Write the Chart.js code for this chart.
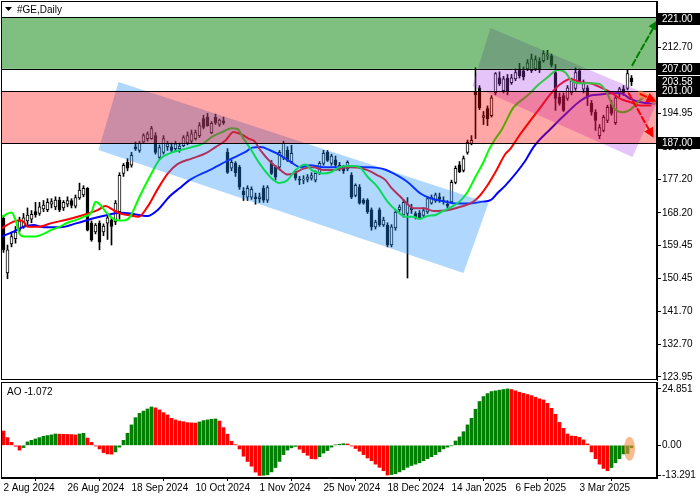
<!DOCTYPE html>
<html>
<head>
<meta charset="utf-8">
<script src="https://cdn.jsdelivr.net/npm/chart.js@4.4.1/dist/chart.umd.min.js"></script>
<style>
html, body { margin: 0; padding: 0; background: #fff; }
#wrap { position: relative; width: 700px; height: 500px; overflow: hidden; background: #fff; }
canvas { position: absolute; left: 0; }
#main { top: 0; }
#ao { top: 381px; }
</style>
</head>
<body>
<div id="wrap">
  <canvas id="main" width="700" height="381"></canvas>
  <canvas id="ao" width="700" height="119"></canvas>
</div>
<script>
// ---- data ----
const symbolTitle = '#GE,Daily';
const dateLabels = ['2 Aug 2024', '26 Aug 2024', '18 Sep 2024', '10 Oct 2024', '1 Nov 2024',
  '25 Nov 2024', '18 Dec 2024', '14 Jan 2025', '6 Feb 2025', '3 Mar 2025'];
const dateTickIdx = [0, 16, 32, 48, 64, 80, 96, 112, 128, 144];

const priceTicks = [123.95, 132.70, 141.70, 150.45, 159.45, 168.20, 177.20, 185.95, 194.95, 203.70, 212.70];
const levelPrices = [221, 207, 203.58, 201, 187];
const hLines = [221, 207, 201, 187];
const greenZone = [207, 221];
const redZone = [187, 201];

const opens = [166.7,152.0,159.8,161.2,163.5,164.5,166.0,166.5,168.5,168.0,
  169.2,169.0,170.5,169.8,171.6,169.5,170.5,171.5,170.0,172.2,
  173.0,174.8,165.4,163.0,165.4,163.0,165.4,166.2,165.7,168.5,
  178.8,181.8,181.0,186.0,185.0,187.3,188.2,188.2,189.0,183.1,
  184.5,186.0,186.0,185.5,185.5,186.3,187.0,187.5,188.2,189.0,
  193.6,194.0,189.8,193.9,192.0,193.0,184.5,180.2,181.5,180.5,
  174.0,172.4,172.4,172.5,172.0,174.8,171.6,181.5,180.5,180.5,
  183.0,185.0,182.0,178.8,177.2,177.0,177.2,177.5,177.0,179.0,
  181.5,184.5,181.5,182.5,181.0,180.5,180.0,178.3,172.9,175.1,
  171.6,171.6,169.0,164.4,169.0,164.9,164.9,159.5,164.1,169.0,
  167.6,168.0,169.5,168.0,168.1,167.5,168.4,170.8,171.5,172.5,
  171.5,170.5,171.1,176.4,181.1,179.6,184.5,186.9,200.8,201.9,
  193.9,196.3,194.4,200.6,204.6,201.1,204.5,203.3,204.3,207.0,
  206.5,207.0,206.5,207.0,209.0,209.2,210.5,210.5,206.0,199.3,
  199.8,199.0,200.5,201.7,206.5,201.5,201.9,197.7,195.3,189.0,
  190.4,193.1,197.5,192.5,200.3,201.6,201.7,204.5];
const highs = [167.5,159.5,163.0,164.5,167.0,168.0,169.5,168.8,171.0,171.0,
  171.5,172.0,172.0,172.5,172.4,171.5,172.5,172.0,173.0,176.2,
  175.5,175.0,166.0,165.3,166.0,165.2,168.0,167.0,171.5,179.0,
  181.5,182.8,184.5,187.3,187.5,189.5,190.0,191.5,189.8,186.5,
  189.0,187.5,187.0,187.5,187.0,189.0,190.0,190.5,190.5,192.5,
  194.5,195.0,192.8,194.8,193.5,194.0,185.5,182.5,182.0,181.0,
  175.0,175.5,175.2,173.5,173.5,175.5,175.5,182.3,181.0,185.0,
  187.5,186.0,186.4,179.5,178.0,178.2,178.5,179.0,179.5,182.0,
  185.0,185.0,184.0,183.5,181.8,181.0,182.2,179.0,176.0,175.8,
  172.0,172.0,169.5,166.2,169.5,167.0,165.5,165.0,169.0,170.3,
  171.8,172.3,170.5,168.5,168.8,169.5,172.5,173.0,173.5,173.5,
  172.5,171.5,177.0,180.8,182.0,183.5,187.8,189.0,207.3,202.5,
  195.5,197.0,199.8,206.0,206.2,205.0,205.5,205.5,207.0,208.5,
  207.5,209.5,211.0,210.5,210.0,211.9,212.0,211.0,208.2,200.5,
  200.5,202.5,204.5,207.3,207.0,204.0,202.5,198.5,196.0,192.0,
  194.5,197.2,198.5,199.8,202.0,202.5,206.7,205.2];
const lows = [157.5,150.4,159.0,160.0,163.0,164.0,165.0,165.5,167.0,167.5,
  168.5,168.5,169.5,169.0,168.5,168.8,169.8,169.5,169.5,171.8,
  172.5,163.3,160.5,162.5,158.2,162.0,161.0,159.5,165.0,166.5,
  178.0,179.5,180.5,185.0,184.5,187.0,187.5,188.0,184.0,182.5,
  184.0,185.0,184.5,184.8,184.5,186.0,186.5,187.0,187.8,188.5,
  190.8,191.5,189.5,192.0,191.5,192.0,178.8,179.5,178.0,174.5,
  171.5,171.5,171.8,170.5,171.0,171.0,171.0,178.5,177.0,180.0,
  182.5,182.0,181.5,177.0,175.8,176.0,176.5,177.0,176.5,178.5,
  181.0,182.0,181.0,180.5,179.5,178.8,179.5,172.0,172.5,170.5,
  170.5,168.0,163.5,163.8,164.5,164.5,159.0,159.0,163.5,168.5,
  167.0,150.6,168.0,166.5,166.5,167.0,168.0,170.5,171.0,171.0,
  170.5,169.5,170.8,176.0,179.0,179.2,184.0,186.5,188.2,196.0,
  192.0,191.7,194.0,200.0,202.5,200.5,200.0,202.8,203.8,204.5,
  204.0,206.5,206.0,206.5,206.0,208.8,209.5,207.5,195.8,197.2,
  195.5,198.5,200.0,201.2,203.5,200.5,197.1,194.5,190.4,188.2,
  190.0,192.5,194.5,192.0,199.5,199.8,201.3,202.5];
const closes = [158.2,158.2,161.8,163.0,166.0,166.8,167.6,167.8,167.6,169.8,
  170.3,171.0,171.2,171.6,169.0,171.0,171.5,170.2,172.3,174.3,
  174.8,163.5,160.9,164.9,160.3,164.6,166.8,164.5,170.8,178.3,
  181.0,180.2,183.7,185.5,186.9,189.0,189.5,190.9,184.5,185.8,
  188.2,186.8,185.0,186.8,186.2,188.5,189.0,189.5,189.8,191.7,
  191.2,191.7,192.3,192.5,193.2,192.5,179.1,181.8,179.0,175.1,
  173.0,174.8,174.5,172.0,172.5,171.6,175.0,178.8,177.8,184.5,
  187.0,182.3,184.2,177.5,177.0,177.3,177.8,178.2,178.8,181.5,
  184.2,182.3,183.5,181.0,180.5,179.5,181.8,172.4,175.6,170.8,
  170.8,168.4,164.4,165.7,165.0,166.2,159.5,164.4,168.4,169.7,
  171.0,170.5,169.0,167.0,166.8,168.8,172.0,172.4,173.0,171.8,
  171.2,170.0,176.4,180.2,179.3,182.8,187.2,187.7,200.0,196.5,
  194.4,193.6,199.2,205.7,203.0,204.3,200.8,204.6,206.0,205.1,
  204.8,208.6,209.7,209.5,206.8,211.1,210.8,208.0,199.0,197.7,
  195.8,201.9,203.8,206.0,203.8,203.0,199.8,195.3,193.1,191.2,
  193.9,196.6,195.0,199.2,201.6,200.5,205.7,203.58];

// Alligator lines, sampled along the drawn curves (bar index, price)
const jawX = [-0.5,2.5,5,7.5,10,14.25,18.4,22.5,26,29.25,31.75,36,38.5,41.5,44,46.5,51.5,57,60.5,62,
  64.25,66.75,69.25,71.75,74.25,76.75,80,83.5,86.75,90,93.5,95.5,97.5,101,104.25,106.75,110,113.5,116.75,119.75,
  121.75,123.75,125.5,130.5,132.5,136.75,141,144.25,146.75,149.25,151.75,154.25,156.75,159.25,163.5,165];
const jawY = [161.8,163.1,164.4,164.9,164.3,164.3,165.4,166.7,167.6,168.2,168.0,167.3,168.9,172.6,174.8,177.0,179.7,182.8,184.6,185.7,
  185.9,185.0,183.7,181.9,180.5,181.0,180.5,180.5,180.7,180.5,180.3,179.8,178.8,176.5,173.4,172.1,171.3,170.7,170.7,171.2,
  171.6,173.8,175.6,182.3,185.9,190.8,195.3,198.4,199.8,200.1,200.4,200.4,198.9,198.0,197.6,197.4];
const teethX = [-0.5,2.5,4,5,6,8.5,12,16,20,23.5,25.5,27.5,29.5,31.25,33.75,36,38.5,41,43.5,47,
  50.5,53,55.5,57.5,59.75,61.25,62.75,64.25,66.75,69.25,71,72.5,75,77.5,80,82.5,86,88.5,91,93.5,
  95.5,96.75,99.25,101.25,102.5,105,107.5,111,114.25,117.5,119.25,121,123,125.5,126.75,129.25,131.75,134.25,136.75,139.25,
  141.75,144.25,146.75,149.25,151.75,154.25,156.75,159.25,162];
const teethY = [164.0,165.8,166.2,165.8,164.4,164.4,165.4,166.4,167.6,168.9,170.0,168.9,167.9,167.6,167.1,169.8,174.5,178.7,181.3,182.8,
  184.2,185.9,187.7,190.0,189.2,188.2,187.5,185.0,181.9,179.7,178.5,178.8,180.1,180.5,179.7,179.7,180.5,180.4,179.7,178.3,
  177.0,175.2,172.5,170.3,169.4,169.4,168.7,168.9,169.8,171.2,173.0,175.6,179.2,184.1,185.5,189.5,193.1,196.6,200.2,202.9,
  204.3,203.4,203.1,202.0,200.7,198.9,198.0,197.1,197.1];
const lipsX = [-0.5,2,3,4,5,8,10,12,14,16,18,20,22,23,24.25,25.5,27.5,29,30.5,31.75,
  34,36.75,39,42,45,47,50,52,55,57,58.5,60,62,64,67,69,71,73,75.5,77,
  80,82,84,87,89,91,93.5,96,98.5,100.5,102.5,104,106,108,110,112,114,116,118,120,
  121.5,123,124.5,127.5,131,133.5,136,138.5,140.5,142,144,146.75,149,151,152.5,154.75,156.75,158.5,160];
const lipsY = [167.1,168.3,166.3,162.5,161.8,161.8,162.5,163.6,164.4,165.5,166.2,167.1,168.3,171.2,170.3,168.5,166.5,166.1,166.2,167.3,
  172.5,178.3,182.5,184.4,185.3,185.9,186.9,188.6,190.1,191.0,190.8,188.2,185.0,181.5,177.5,176.2,177.0,179.7,181.2,179.7,
  178.8,179.2,180.5,180.8,180.5,177.9,175.2,171.2,168.5,167.1,167.1,166.5,167.3,167.6,168.7,169.8,171.2,173.8,177.9,181.9,
  185.5,188.2,190.5,196.6,199.8,202.5,204.7,206.7,206.0,203.8,203.1,203.1,202.9,200.2,196.6,195.3,196.0,198.0,199.3];

// Awesome Oscillator, one value per bar
const aoValues = [6.3,3.4,1.3,-0.4,-2.1,-1.0,1.5,2.2,2.8,3.4,
  4.0,4.3,4.6,5.0,4.9,4.85,4.8,4.75,4.6,5.0,
  5.3,3.2,1.3,-0.3,-1.6,-3.2,-3.8,-3.9,-2.9,-0.8,
  2.2,5.3,9.0,12.2,14.1,15.1,16.0,16.9,16.5,15.6,
  14.4,13.4,11.9,11.2,10.7,10.4,10.0,9.9,9.8,10.3,
  10.9,11.2,11.5,11.6,10.7,7.8,4.9,1.8,0.3,-1.6,
  -4.8,-7.1,-9.2,-11.8,-13.291,-13.2,-13.0,-11.7,-9.8,-7.1,
  -4.1,-2.1,-1.1,-0.5,-1.7,-3.2,-4.4,-5.9,-6.0,-5.0,
  -3.4,-2.3,-0.8,0.2,0.5,0.7,0.6,-0.3,-1.4,-2.6,
  -4.1,-5.6,-6.8,-8.3,-9.7,-11.2,-13.1,-12.9,-12.5,-11.7,
  -10.8,-9.7,-8.9,-8.3,-7.7,-6.8,-5.9,-5.0,-4.1,-2.9,
  -1.6,-0.8,-0.2,1.9,3.7,6.0,9.0,11.9,15.9,19.3,
  21.5,22.8,23.7,24.0,24.3,24.6,24.851,24.6,24.0,23.4,
  22.9,22.4,21.9,21.2,20.5,20.0,18.5,16.3,13.7,10.1,
  7.5,5.0,4.1,4.0,3.5,2.4,0.6,-2.9,-5.9,-8.3,
  -10.2,-11.2,-9.8,-7.7,-5.9,-3.8,-3.6,-1.072];
const aoTickValues = [-13.291, 0, 24.851];
const aoTickLabels = ['-13.291', '0.00', '24.851'];
const aoLabel = 'AO -1.072';

// drawn objects in chart units (bar index, price)
const blueChannel = [[28.75, 203.45], [121.25, 170.84], [115, 151.97], [23.75, 185.13]];
const purpleChannel = [[121.75, 218.01], [163.75, 198.87], [157.25, 183.24], [117.25, 202.38]];
const upArrow = [[157.2, 208.0], [163.6, 220.2]];
const downArrow = [[156.3, 200.4], [162.5, 188.4]];
const sideArrow = [[159.25, 200.2], [163.25, 198.1]];
const aoMark = [156.5, -1.5];

// ---- setup ----
Chart.defaults.font.family = "'Liberation Sans', Arial, sans-serif";
Chart.defaults.font.size = 10;
Chart.defaults.color = '#000';

const X_MIN = -0.625, X_MAX = 163.375;
const BAR_GREEN = '#008000', BAR_RED = '#ff0000';

const wickData = lows.map((l, i) => ({ x: i, y: [l, highs[i]] }));
const bodyData = opens.map((o, i) => ({ x: i, y: [o, closes[i]] }));
const bodyFill = opens.map((o, i) => closes[i] >= o ? '#ffffff' : '#000000');
const toXY = (xs, ys) => xs.map((x, k) => ({ x: x, y: ys[k] }));
const aoData = aoValues.map((v, i) => ({ x: i, y: v }));
const aoColors = aoValues.map((v, i) => (i > 0 && v > aoValues[i - 1]) ? BAR_GREEN : BAR_RED);

function polyPath(ctx, xs, ys, pts) {
  ctx.beginPath();
  pts.forEach(([i, p], k) => {
    const X = xs.getPixelForValue(i), Y = ys.getPixelForValue(p);
    if (k) ctx.lineTo(X, Y); else ctx.moveTo(X, Y);
  });
  ctx.closePath();
}

function dashedArrow(ctx, xs, ys, seg, color) {
  const x1 = xs.getPixelForValue(seg[0][0]), y1 = ys.getPixelForValue(seg[0][1]);
  const x2 = xs.getPixelForValue(seg[1][0]), y2 = ys.getPixelForValue(seg[1][1]);
  const a = Math.atan2(y2 - y1, x2 - x1);
  ctx.save();
  ctx.strokeStyle = color;
  ctx.lineWidth = 2;
  ctx.setLineDash([6, 3]);
  ctx.beginPath();
  ctx.moveTo(x1, y1);
  ctx.lineTo(x2 - 6 * Math.cos(a), y2 - 6 * Math.sin(a));
  ctx.stroke();
  ctx.setLineDash([]);
  ctx.fillStyle = color;
  ctx.beginPath();
  ctx.moveTo(x2, y2);
  ctx.lineTo(x2 - 10 * Math.cos(a) + 5 * Math.sin(a), y2 - 10 * Math.sin(a) - 5 * Math.cos(a));
  ctx.lineTo(x2 - 10 * Math.cos(a) - 5 * Math.sin(a), y2 - 10 * Math.sin(a) + 5 * Math.cos(a));
  ctx.closePath();
  ctx.fill();
  ctx.restore();
}

// overlays are drawn over the candles, like the terminal's objects
const overlayPlugin = {
  id: 'overlays',
  afterDatasetsDraw(chart) {
    const ctx = chart.ctx, ca = chart.chartArea;
    const xs = chart.scales.x, ys = chart.scales.y;
    ctx.save();
    ctx.beginPath();
    ctx.rect(ca.left, ca.top, ca.right - ca.left, ca.bottom - ca.top);
    ctx.clip();

    polyPath(ctx, xs, ys, blueChannel);
    ctx.fillStyle = 'rgba(30,144,255,0.35)';
    ctx.fill();
    polyPath(ctx, xs, ys, purpleChannel);
    ctx.fillStyle = 'rgba(170,60,240,0.3)';
    ctx.fill();

    const gTop = ys.getPixelForValue(greenZone[1]), gBot = ys.getPixelForValue(greenZone[0]);
    ctx.fillStyle = 'rgba(0,128,0,0.5)';
    ctx.fillRect(ca.left, gTop, ca.right - ca.left, gBot - gTop);
    const rTop = ys.getPixelForValue(redZone[1]), rBot = ys.getPixelForValue(redZone[0]);
    ctx.fillStyle = 'rgba(255,0,0,0.35)';
    ctx.fillRect(ca.left, rTop, ca.right - ca.left, rBot - rTop);

    ctx.strokeStyle = '#000';
    ctx.lineWidth = 1;
    hLines.forEach(v => {
      const y = Math.round(ys.getPixelForValue(v)) + 0.5;
      ctx.beginPath();
      ctx.moveTo(ca.left, y);
      ctx.lineTo(ca.right, y);
      ctx.stroke();
    });

    // orange stroke under the short red arrow
    ctx.strokeStyle = 'rgba(255,140,60,0.6)';
    ctx.lineWidth = 7;
    ctx.lineCap = 'round';
    ctx.beginPath();
    ctx.moveTo(xs.getPixelForValue(sideArrow[0][0]), ys.getPixelForValue(sideArrow[0][1]));
    ctx.lineTo(xs.getPixelForValue(sideArrow[1][0]), ys.getPixelForValue(sideArrow[1][1]));
    ctx.stroke();

    dashedArrow(ctx, xs, ys, upArrow, '#008000');
    dashedArrow(ctx, xs, ys, downArrow, '#ff0000');
    dashedArrow(ctx, xs, ys, sideArrow, '#ff0000');
    ctx.restore();
  },
  afterDraw(chart) {
    const ctx = chart.ctx, ca = chart.chartArea;
    const ys = chart.scales.y;
    ctx.save();
    ctx.strokeStyle = '#000';
    ctx.lineWidth = 1;
    ctx.strokeRect(ca.left + 0.5, ca.top + 0.5, ca.right - ca.left - 1, ca.bottom - ca.top - 1);

    ctx.font = "10px 'Liberation Sans', Arial, sans-serif";
    ctx.textBaseline = 'middle';
    ctx.textAlign = 'left';
    levelPrices.forEach(v => {
      const y = Math.max(Math.round(ys.getPixelForValue(v)), ca.top + 18);
      ctx.fillStyle = '#000';
      ctx.fillRect(ca.right + 1, y - 6, 42, 12);
      ctx.fillStyle = '#fff';
      ctx.fillText(v.toFixed(2), ca.right + 5, y + 0.5);
    });

    // symbol caption
    ctx.fillStyle = '#000';
    ctx.beginPath();
    ctx.moveTo(5, 7);
    ctx.lineTo(12, 7);
    ctx.lineTo(8.5, 11);
    ctx.closePath();
    ctx.fill();
    ctx.fillText(symbolTitle, 17, 10);
    ctx.restore();
  }
};

const noPadY = s => { s.width = 43; s.paddingTop = 0; s.paddingBottom = 0; };

new Chart(document.getElementById('main'), {
  type: 'bar',
  data: {
    datasets: [
      { type: 'line', data: toXY(lipsX, lipsY), borderColor: '#00ff00', borderWidth: 2, pointRadius: 0, cubicInterpolationMode: 'monotone', order: 0 },
      { type: 'line', data: toXY(teethX, teethY), borderColor: '#ff0000', borderWidth: 2, pointRadius: 0, cubicInterpolationMode: 'monotone', order: 0 },
      { type: 'line', data: toXY(jawX, jawY), borderColor: '#0000ff', borderWidth: 2, pointRadius: 0, cubicInterpolationMode: 'monotone', order: 0 },
      { data: bodyData, backgroundColor: bodyFill, borderColor: '#000', borderWidth: 1, borderSkipped: false,
        barThickness: 3, grouped: false, minBarLength: 1, order: 1 },
      { data: wickData, backgroundColor: '#000', borderWidth: 0, barThickness: 1, grouped: false, order: 2 }
    ]
  },
  options: {
    responsive: false,
    devicePixelRatio: 1,
    animation: false,
    layout: { padding: { left: 1, top: 1, right: 0, bottom: 1 } },
    plugins: { legend: { display: false }, tooltip: { enabled: false } },
    scales: {
      x: { type: 'linear', min: X_MIN, max: X_MAX, offset: false, display: false },
      y: {
        position: 'right',
        min: 123.1,
        max: 225.3,
        afterBuildTicks: s => { s.ticks = priceTicks.map(v => ({ value: v })); },
        afterFit: noPadY,
        ticks: { callback: v => Number(v).toFixed(2), padding: 1, autoSkip: false, color: '#000' },
        grid: { drawOnChartArea: false, drawTicks: true, tickLength: 4, color: '#000' },
        border: { display: true, color: '#000' }
      }
    }
  },
  plugins: [overlayPlugin]
});

const aoPlugin = {
  id: 'aoExtras',
  afterDatasetsDraw(chart) {
    const ctx = chart.ctx;
    const xs = chart.scales.x, ys = chart.scales.y;
    ctx.save();
    ctx.fillStyle = 'rgba(245,140,70,0.6)';
    ctx.beginPath();
    ctx.ellipse(xs.getPixelForValue(aoMark[0]), ys.getPixelForValue(aoMark[1]), 5.5, 12, 0, 0, Math.PI * 2);
    ctx.fill();
    ctx.restore();
  },
  afterDraw(chart) {
    const ctx = chart.ctx, ca = chart.chartArea;
    ctx.save();
    ctx.strokeStyle = '#000';
    ctx.lineWidth = 1;
    ctx.strokeRect(ca.left + 0.5, ca.top + 0.5, ca.right - ca.left - 1, ca.bottom - ca.top - 1);
    ctx.fillStyle = '#000';
    ctx.font = "10px 'Liberation Sans', Arial, sans-serif";
    ctx.textBaseline = 'middle';
    ctx.fillText(aoLabel, 7, ca.top + 10);
    ctx.restore();
  }
};

new Chart(document.getElementById('ao'), {
  type: 'bar',
  data: {
    datasets: [
      { data: aoData, backgroundColor: aoColors, borderWidth: 0, barThickness: 3 }
    ]
  },
  options: {
    responsive: false,
    devicePixelRatio: 1,
    animation: false,
    layout: { padding: { left: 1, top: 1, right: 0, bottom: 0 } },
    plugins: { legend: { display: false }, tooltip: { enabled: false } },
    scales: {
      x: {
        type: 'linear',
        min: X_MIN,
        max: X_MAX,
        offset: false,
        afterBuildTicks: s => { s.ticks = dateTickIdx.map(v => ({ value: v })); },
        afterFit: s => { s.height = 22; s.paddingLeft = 0; s.paddingRight = 0; },
        ticks: {
          callback: v => dateLabels[dateTickIdx.indexOf(v)],
          align: 'start', maxRotation: 0, autoSkip: false, padding: 1, color: '#000'
        },
        grid: { drawOnChartArea: false, drawTicks: true, tickLength: 3, color: '#000' },
        border: { display: true, color: '#000' }
      },
      y: {
        position: 'right',
        min: -14.4,
        max: 27.9,
        afterBuildTicks: s => { s.ticks = aoTickValues.map(v => ({ value: v })); },
        afterFit: noPadY,
        ticks: { callback: v => aoTickLabels[aoTickValues.indexOf(v)], padding: 1, autoSkip: false, color: '#000' },
        grid: { drawOnChartArea: false, drawTicks: true, tickLength: 4, color: '#000' },
        border: { display: true, color: '#000' }
      }
    }
  },
  plugins: [aoPlugin]
});
</script>
</body>
</html>
